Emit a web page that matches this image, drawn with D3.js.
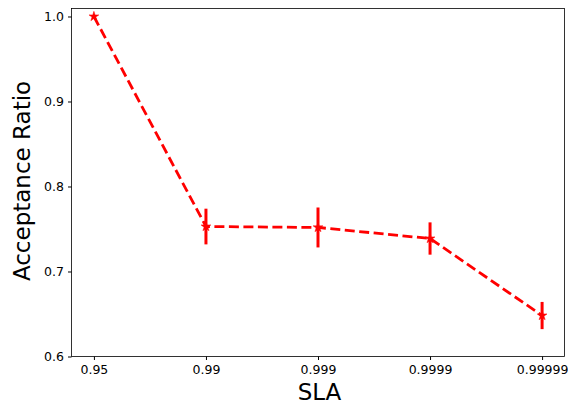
<!DOCTYPE html>
<html><head><meta charset="utf-8">
<script src="https://cdn.jsdelivr.net/npm/d3@7"></script>
<style>body{margin:0;background:#fff}svg{display:block}text{font-family:"DejaVu Sans",sans-serif}</style>
</head><body><svg id="c" width="568" height="409"></svg>
<script>
const categories = ["0.95","0.99","0.999","0.9999","0.99999"];
const values = [1.0, 0.7529, 0.7518, 0.7388, 0.6482];
const errors = [0.0, 0.021, 0.0235, 0.019, 0.016];
const yTicks = [0.6, 0.7, 0.8, 0.9, 1.0];

const svg = d3.select("#c");
const L = 71.5, R = 564.5, T = 8.5, B = 356.5;
const x = d3.scaleLinear().domain([-0.2, 4.2]).range([L, R]);
const y = d3.scaleLinear().domain([0.6, 1.0094]).range([B, T]);

svg.append("g").attr("transform",`translate(0,${B})`)
  .call(d3.axisBottom(x).tickValues(d3.range(categories.length)).tickFormat(i=>categories[i]).tickSize(3.5).tickPadding(5.5))
  .call(g=>g.select(".domain").remove())
  .call(g=>g.selectAll("text").attr("font-size","12.5px").attr("fill","#000"));
svg.append("g").attr("transform",`translate(${L},0)`)
  .call(d3.axisLeft(y).tickValues(yTicks).tickFormat(d3.format(".1f")).tickSize(3.5).tickPadding(4))
  .call(g=>g.select(".domain").remove())
  .call(g=>g.selectAll("text").attr("font-size","12.5px").attr("fill","#000"));

svg.append("rect").attr("x",L).attr("y",T).attr("width",R-L).attr("height",B-T)
  .attr("fill","none").attr("stroke","#000").attr("stroke-width",0.8);

const line = d3.line().x((d,i)=>x(i)).y(d=>y(d));
svg.append("path").datum(values).attr("d",line).attr("fill","none")
  .attr("stroke","#ff0000").attr("stroke-width",2.8).attr("stroke-dasharray","10,4.5");

svg.append("g").selectAll("line").data(values).join("line")
  .attr("x1",(d,i)=>x(i)).attr("x2",(d,i)=>x(i))
  .attr("y1",(d,i)=>y(d-errors[i])).attr("y2",(d,i)=>y(d+errors[i]))
  .attr("stroke","#ff0000").attr("stroke-width",3);

const star = d3.symbol().type(d3.symbolStar).size(30);
svg.append("g").selectAll("path").data(values).join("path")
  .attr("d",star).attr("transform",(d,i)=>`translate(${x(i)},${y(d)})`)
  .attr("fill","#ff0000").attr("stroke","#ff0000").attr("stroke-width",0.5);

svg.append("text").attr("x",319.5).attr("y",400).attr("text-anchor","middle")
  .attr("font-size","23px").text("SLA");
svg.append("text").attr("transform",`translate(30,181) rotate(-90)`).attr("text-anchor","middle")
  .attr("font-size","23px").text("Acceptance Ratio");
</script></body></html>
